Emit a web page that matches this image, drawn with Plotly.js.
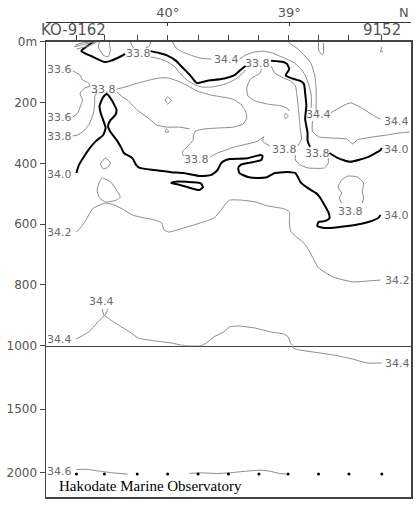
<!DOCTYPE html>
<html><head><meta charset="utf-8">
<script src="https://cdn.plot.ly/plotly-3.0.1.min.js"></script>
<style>html,body{margin:0;padding:0;background:#fff}#chart{width:418px;height:506px}</style>
</head><body><div id="chart"></div>
<script>
// Stations (latitude, deg N) and deepest observation depth (m)
const stationLat = [40.75, 40.52, 40.25, 40.00, 39.75, 39.50, 39.25, 39.01, 38.76, 38.51, 38.24];
const obsDepth   = [2010, 2010, 2010, 2010, 2010, 2010, 2010, 2010, 2010, 2010, 2010];

const depthTicks = [0, 200, 400, 600, 800, 1000];
const depthTickText = ['0m', '200', '400', '600', '800', '1000'];
const deepTicks = [1500, 2000];
const latTicks = [40, 39];
const latTickText = ['40°', '39°'];

// ---- thick isohaline 34.0 ----
const s340aLat = [40.61,40.66,40.71,40.63,40.52,40.47,40.38,40.35,null,40.14,40.07,40.01,39.93,39.89,39.85,39.81,39.76,39.68,39.56,39.49,39.45,39.41,39.36,null,39.15,39.05,39.02,39.00,39.03,38.99,38.91,38.88,38.87,38.86,38.87,38.85,38.85,38.83,null,38.67,38.60,38.50,38.35,38.25,38.24];
const s340aDep = [0,14,31,47,67,63,47,40,null,31,37,44,63,80,96,113,136,129,123,116,110,96,80,null,63,67,73,90,110,119,129,139,169,211,254,300,326,346,null,366,383,395,379,356,349];
const s340bLat = [40.75,40.73,40.69,40.64,40.59,40.53,40.51,40.53,40.55,40.56,40.53,40.50,40.46,40.42,40.43,40.47,40.49,40.47,40.42,40.38,40.36,40.29,40.26,40.23,40.11,39.97,39.87,39.73,39.64,39.59,39.56,39.52,39.49,39.34,39.24,39.22,39.23,39.34,39.40,39.42,39.41,39.34,39.26,39.18,39.12,39.05,38.99,38.95,38.93,38.91,38.85,38.78,38.75,38.72,38.68,38.67,38.71,38.76,38.77,38.71,38.60,38.46,38.35,38.27,38.25];
const s340bDep = [432,406,379,350,327,307,284,258,235,212,182,172,192,225,241,258,277,297,323,350,366,383,405,415,422,429,432,442,438,422,399,389,386,383,373,376,389,399,405,415,432,445,448,445,432,429,429,432,445,461,481,498,511,531,560,580,590,593,606,613,610,603,593,580,570];
const s340cLat = [39.97,39.93,39.84,39.74,39.71,39.73,39.84,39.95,39.97];
const s340cDep = [465,468,478,488,478,465,461,461,465];

// ---- thin isohalines, upper panel ----
const hatchLat = [40.76,40.70,40.62,null,40.77,40.68,40.60,null,40.75,40.65,40.58];
const hatchDep = [11,4,0,null,17,8,0,null,24,14,0];
const uTop1Lat = [40.56,40.57,40.53,40.49,40.47,40.48,40.47];
const uTop1Dep = [0,17,44,50,27,4,0];
const uTop2Lat = [40.30,40.30,40.28,null,40.14,40.15,40.18];
const uTop2Dep = [0,8,21,null,0,14,21];
const s344topLat = [39.96,39.93,39.89,39.84,39.73,39.64];
const s344topDep = [0,21,31,40,54,57];
const underLat = [40.14,40.06,40.00,39.94,39.90,39.85,39.79,39.72,39.64,39.55,39.49,39.44,39.40,39.36];
const underDep = [50,57,67,83,103,123,139,149,149,142,133,123,110,93];
const s336Lat = [40.78,40.72,40.70,40.65,40.64,40.68,40.72,40.70,40.72,40.74,40.78];
const s336Dep = [96,110,126,136,146,152,169,192,215,235,248];
const s338aLat = [40.78,40.74,40.68,40.64,40.61,40.60,40.60,40.58];
const s338aDep = [310,307,290,267,235,202,182,165];
const s338bLat = [40.42,40.35,40.27,40.15,40.06,40.00,39.92,39.83,39.76,39.65,39.55,39.47,39.40,39.36,39.35,39.38,39.46,39.59,39.70,39.77,39.79,39.79,39.84,39.88,39.87];
const s338bDep = [156,149,139,126,119,119,129,146,162,175,182,188,205,228,251,271,281,284,287,294,310,323,346,363,376];
const s338cLat = [40.42,40.38,40.33,40.25,40.17,40.09,40.01,39.90,39.82];
const s338cDep = [165,179,192,225,248,274,281,281,287];
const s338dLat = [39.65,39.59,39.52,39.45,39.34,39.26,39.21,39.22,39.16];
const s338dDep = [379,366,356,346,336,327,313,327,343];
const ringLat = [40.00,39.97,40.00,40.02,40.00,null,40.02,39.99,40.01,40.02];
const ringDep = [182,192,205,192,182,null,297,297,287,297];
const leftOfLat = [39.23,39.24,39.32,39.35,39.34,39.28,39.18,39.07,39.02,39.00,null,39.03,39.01,39.03,39.04,39.03];
const leftOfDep = [90,103,123,152,179,195,205,211,218,228,null,235,244,254,244,235];
const besideLat = [39.15,39.12,39.05,38.99,38.95,38.93,38.92,38.91,38.90,38.93];
const besideDep = [80,103,119,129,146,202,244,287,320,343];
const humpLat = [39.41,39.36,39.29,39.22,39.14,39.08,38.97,38.91,38.87,38.84,38.82,38.82];
const humpDep = [57,44,34,31,37,47,67,87,110,142,175,218];
const eastALat = [39.01,39.00,38.93,38.87,38.82,38.79,38.78,38.78,38.78,null,38.81,38.81,38.76,38.64,38.53,38.48,38.44,38.31,38.20,38.09,38.01];
const eastADep = [0,4,24,47,73,113,156,202,231,null,261,294,313,317,320,336,323,313,307,300,297];
const eastBLat = [38.66,38.50,38.41,38.30,38.25];
const eastBDep = [234,201,217,245,255];
const topMarksLat = [38.76,38.76,38.73,38.72,38.72,null,38.24,38.25,38.23];
const topMarksDep = [0,27,44,37,4,null,17,34,31];
const uUnderLat = [38.95,38.95,38.91,38.85,38.71,38.68,38.68];
const uUnderDep = [373,389,405,415,415,399,383];
const uEastLat = [38.57,38.59,38.57,38.60,38.57,38.52,38.44,38.39,38.40,38.39,38.40];
const uEastDep = [531,514,498,478,455,442,445,465,494,514,531];
const loopWLat = [40.54,40.47,40.42,40.39,40.42,40.51,40.56,40.58,40.56,40.54,null,40.55,40.51,40.47,40.50,40.53,40.55,40.55];
const loopWDep = [448,461,488,511,521,527,514,488,461,448,null,399,383,399,415,418,405,399];
const s342Lat = [40.75,40.71,40.67,40.65,40.61,40.54,40.51,40.44,40.36,40.29,40.19,40.11,40.05,40.03,39.99,39.87,39.73,39.62,39.56,39.52,39.49,39.40,39.28,39.18,39.04,39.00,39.00,38.99,38.95,38.89,38.85,38.81,38.76,38.64,38.48,38.35,38.25];
const s342Dep = [626,609,586,570,547,534,531,537,553,570,580,586,596,619,626,613,596,580,553,531,521,521,527,540,550,560,593,623,639,659,679,708,744,774,790,787,784];
const s344Lat = [40.75,40.65,40.58,40.52,40.47,40.38,40.30,40.24,40.11,39.97,39.89,39.84,39.73,39.68,39.62,39.54,39.49,39.42,39.28,39.15,39.05,39.01,38.99,38.97,null,40.54,40.52,40.49];
const s344Dep = [978,955,925,902,915,938,958,975,984,991,998,1000,1000,991,971,955,938,935,942,955,961,971,991,1000,null,879,902,879];

// ---- thin isohalines, deep panel ----
const s344deepLat = [38.97,38.97,38.91,38.75,38.64,38.48,38.36,38.24];
const s344deepDep = [1000,1018,1034,1057,1073,1105,1136,1136];
const s346Lat = [40.75,40.66,40.56,40.45,40.33,null,39.82,39.73,39.59,39.49,39.38,39.24,39.16,39.08,39.02];
const s346Dep = [1973,1973,1987,2000,2010,null,2005,2000,2005,2000,1989,1979,1987,2005,2010];

// ---- contour labels ----
const labelText  = ['33.6','33.6','33.8','34.0','34.2','34.4','34.4','33.8','33.8','34.4','33.8','34.4','34.4','33.8','33.8','33.8','34.0','33.8','34.0','34.2','34.4','34.6'];
const labelLat   = [40.885,40.885,40.885,40.885,40.885,40.885,40.54,40.24,40.53,39.52,39.26,38.76,38.12,39.76,39.04,38.77,38.12,38.50,38.12,38.11,38.11,40.885];
const labelDep   = [93,248,313,438,626,981,853,40,156,57,73,238,261,389,356,369,353,560,573,784,1136,1992];
const labelPanel = [1,1,1,1,1,1,1,1,1,1,1,1,1,1,1,1,1,1,1,1,2,2];

const traces = [];
function iso(lat, dep, panel, thick) {
  traces.push({
    type: 'scatter', mode: 'lines', x: lat, y: dep,
    xaxis: panel === 2 ? 'x2' : 'x', yaxis: panel === 2 ? 'y2' : 'y',
    line: {color: thick ? '#000000' : '#8a8a8a', width: thick ? 2 : 1, shape: 'spline', smoothing: 0.5},
    connectgaps: false, hoverinfo: 'skip', showlegend: false
  });
}
iso(s340aLat, s340aDep, 1, true);
iso(s340bLat, s340bDep, 1, true);
iso(s340cLat, s340cDep, 1, true);
[[hatchLat,hatchDep],[uTop1Lat,uTop1Dep],[uTop2Lat,uTop2Dep],[s344topLat,s344topDep],[underLat,underDep],
 [s336Lat,s336Dep],[s338aLat,s338aDep],[s338bLat,s338bDep],[s338cLat,s338cDep],[s338dLat,s338dDep],
 [ringLat,ringDep],[leftOfLat,leftOfDep],[besideLat,besideDep],[humpLat,humpDep],[eastALat,eastADep],
 [eastBLat,eastBDep],[topMarksLat,topMarksDep],[uUnderLat,uUnderDep],[uEastLat,uEastDep],
 [loopWLat,loopWDep],[s342Lat,s342Dep],[s344Lat,s344Dep]].forEach(p => iso(p[0], p[1], 1, false));
iso(s344deepLat, s344deepDep, 2, false);
iso(s346Lat, s346Dep, 2, false);

traces.push({type:'scatter', mode:'markers', x: stationLat, y: obsDepth, xaxis:'x2', yaxis:'y2',
  marker:{color:'#000', size:3}, hoverinfo:'skip', showlegend:false});
// carrier for the latitude axis on top
traces.push({type:'scatter', mode:'markers', x: stationLat, y: stationLat.map(() => null), xaxis:'x3', yaxis:'y',
  hoverinfo:'skip', showlegend:false});

const annotations = labelText.map((t, i) => ({
  text: t, x: labelLat[i], y: labelDep[i],
  xref: labelPanel[i] === 2 ? 'x2' : 'x', yref: labelPanel[i] === 2 ? 'y2' : 'y',
  showarrow: false, font: {family: 'DejaVu Sans', size: 11, color: '#6a6a6a'},
  xanchor: 'center', yanchor: 'middle', borderpad: 0
}));
annotations.push(
  {text:'KO-9162', xref:'paper', yref:'paper', x:-0.018, y:0.983, xanchor:'left', yanchor:'middle', showarrow:false,
   font:{family:'DejaVu Sans', size:15, color:'#555'}},
  {text:'9152', xref:'paper', yref:'paper', x:0.977, y:0.983, xanchor:'right', yanchor:'middle', showarrow:false,
   font:{family:'DejaVu Sans', size:15, color:'#555'}},
  {text:'N', xref:'paper', yref:'paper', x:1.0, y:1.019, xanchor:'right', yanchor:'middle', showarrow:false,
   font:{family:'DejaVu Sans', size:13, color:'#555'}},
  {text:'Hakodate Marine Observatory', xref:'paper', yref:'paper', x:0.03, y:0.024, xanchor:'left', yanchor:'middle', showarrow:false,
   font:{family:'Liberation Serif', size:15, color:'#000'}}
);

const frame = '#444';
const tickFont = {family:'DejaVu Sans', size:12, color:'#555'};
const layout = {
  width: 418, height: 506,
  margin: {l:46, r:7, t:22, b:9, pad:0},
  paper_bgcolor:'#fff', plot_bgcolor:'#fff',
  showlegend: false,
  xaxis: {domain:[0,1], range:[41,38], anchor:'y', side:'top', showgrid:false, zeroline:false,
    showline:true, mirror:true, linecolor:frame, linewidth:1.5,
    tickmode:'array', tickvals: stationLat, ticks:'outside', ticklen:5, tickcolor:'#444', tickwidth:1,
    showticklabels:false},
  yaxis: {domain:[0.3185, 0.9585], range:[1000,0], anchor:'x', showgrid:false, zeroline:false,
    showline:true, mirror:true, linecolor:frame, linewidth:1.5,
    tickmode:'array', tickvals: depthTicks, ticktext: depthTickText, ticks:'outside', ticklen:5,
    tickcolor:'#444', tickfont: tickFont},
  xaxis2: {domain:[0,1], range:[41,38], anchor:'y2', showgrid:false, zeroline:false,
    showline:true, mirror:false, linecolor:frame, linewidth:2, ticks:'', showticklabels:false},
  yaxis2: {domain:[0, 0.3185], range:[2190,1000], anchor:'x2', showgrid:false, zeroline:false,
    showline:true, mirror:true, linecolor:frame, linewidth:1.5,
    tickmode:'array', tickvals: deepTicks, ticks:'outside', ticklen:5, tickcolor:'#444', tickfont: tickFont},
  xaxis3: {overlaying:'x', anchor:'free', position:1, side:'top', range:[41,38], showgrid:false, zeroline:false,
    showline:true, linecolor:'#333', linewidth:1,
    tickmode:'array', tickvals: latTicks, ticktext: latTickText, ticks:'inside', ticklen:3, tickcolor:'#333',
    tickfont:{family:'DejaVu Sans', size:13, color:'#555'}},
  annotations: annotations
};

Plotly.newPlot('chart', traces, layout, {staticPlot:true, displayModeBar:false});
</script>
</body></html>
